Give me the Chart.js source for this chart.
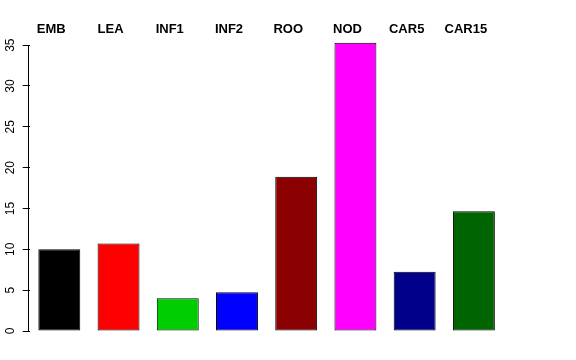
<!DOCTYPE html>
<html>
<head>
<meta charset="utf-8">
<script src="https://cdn.jsdelivr.net/npm/chart.js@4"></script>
<style>html,body{margin:0;padding:0;background:#fff}</style>
</head>
<body>
<canvas id="c" width="576" height="360"></canvas>
<script>
const categories = ["EMB", "LEA", "INF1", "INF2", "ROO", "NOD", "CAR5", "CAR15"];
const values = [10.0, 10.7, 4.0, 4.75, 18.9, 35.3, 7.25, 14.65];
const barColors = ["#000000", "#FF0000", "#00CD00", "#0000FF", "#8B0000", "#FF00FF", "#00008B", "#006400"];
const yTicks = [0, 5, 10, 15, 20, 25, 30, 35];

const axisLine = {
  id: 'axisLine',
  afterDraw(chart) {
    const y = chart.scales.y;
    const ctx = chart.ctx;
    const x = Math.floor(chart.chartArea.left) - 1 + 0.5;
    ctx.save();
    ctx.strokeStyle = '#000';
    ctx.lineWidth = 1;
    ctx.beginPath();
    ctx.moveTo(x, y.getPixelForValue(yTicks[0]));
    ctx.lineTo(x, y.getPixelForValue(yTicks[yTicks.length - 1]));
    ctx.stroke();
    ctx.restore();
  }
};

new Chart(document.getElementById('c'), {
  type: 'bar',
  data: {
    labels: categories,
    datasets: [{
      data: values,
      backgroundColor: barColors,
      borderColor: '#000000',
      borderWidth: 1,
      borderSkipped: false,
      barPercentage: 0.708,
      categoryPercentage: 1.0
    }]
  },
  options: {
    responsive: false,
    animation: false,
    layout: { padding: { left: 0, top: 0, right: 72.5, bottom: 29 } },
    plugins: { legend: { display: false }, tooltip: { enabled: false } },
    scales: {
      x: {
        position: 'top',
        grid: { display: false, drawTicks: false },
        border: { display: false },
        ticks: {
          color: '#000',
          font: { family: 'Liberation Sans', size: 13, weight: 'bold' },
          padding: 0,
          labelOffset: -8,
          maxRotation: 0,
          minRotation: 0,
          autoSkip: false
        },
        afterFit(s) { s.height = 37; }
      },
      y: {
        min: 0,
        max: 36,
        afterBuildTicks(s) { s.ticks = yTicks.map(v => ({ value: v })); },
        grid: { drawOnChartArea: false, drawTicks: true, tickLength: 7, color: '#000' },
        border: { display: false },
        ticks: {
          color: '#000',
          font: { family: 'Liberation Sans', size: 12 },
          minRotation: 90,
          maxRotation: 90,
          crossAlign: 'center',
          padding: 5
        },
        afterFit(s) { s.width = 29.7; }
      }
    }
  },
  plugins: [axisLine]
});
</script>
</body>
</html>
